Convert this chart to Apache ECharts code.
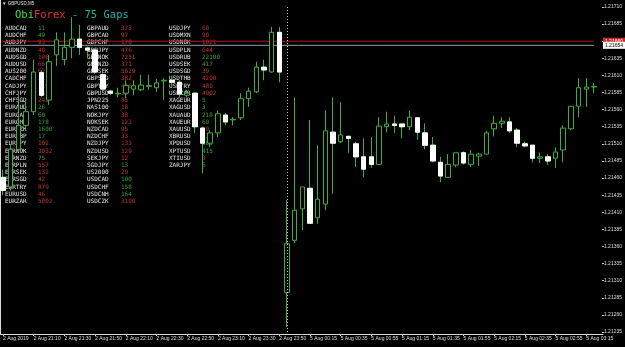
<!DOCTYPE html>
<html><head><meta charset="utf-8">
<script src="https://cdn.jsdelivr.net/npm/echarts@6/dist/echarts.min.js"></script>
<style>html,body{margin:0;padding:0;background:#000;}#c{width:625px;height:347px;}</style>
</head><body><div id="c"></div>
<script>
const categories = [
 '2 Aug 20:50','2 Aug 20:55','2 Aug 21:00','2 Aug 21:05','2 Aug 21:10','2 Aug 21:15','2 Aug 21:20','2 Aug 21:25',
 '2 Aug 21:30','2 Aug 21:35','2 Aug 21:40','2 Aug 21:45','2 Aug 21:50','2 Aug 21:55','2 Aug 22:00','2 Aug 22:05',
 '2 Aug 22:10','2 Aug 22:15','2 Aug 22:20','2 Aug 22:25','2 Aug 22:30','2 Aug 22:35','2 Aug 22:40','2 Aug 22:45',
 '2 Aug 22:50','2 Aug 22:55','2 Aug 23:00','2 Aug 23:05','2 Aug 23:10','2 Aug 23:15','2 Aug 23:20','2 Aug 23:25',
 '2 Aug 23:30','2 Aug 23:35','2 Aug 23:40','2 Aug 23:45','2 Aug 23:50',
 '5 Aug 00:00','5 Aug 00:05','5 Aug 00:10','5 Aug 00:15','5 Aug 00:20','5 Aug 00:25','5 Aug 00:30','5 Aug 00:35',
 '5 Aug 00:40','5 Aug 00:45','5 Aug 00:50','5 Aug 00:55','5 Aug 01:00','5 Aug 01:05','5 Aug 01:10','5 Aug 01:15',
 '5 Aug 01:20','5 Aug 01:25','5 Aug 01:30','5 Aug 01:35','5 Aug 01:40','5 Aug 01:45','5 Aug 01:50','5 Aug 01:55',
 '5 Aug 02:00','5 Aug 02:05','5 Aug 02:10','5 Aug 02:15','5 Aug 02:20','5 Aug 02:25','5 Aug 02:30','5 Aug 02:35',
 '5 Aug 02:40','5 Aug 02:45','5 Aug 02:50','5 Aug 02:55','5 Aug 03:00','5 Aug 03:05','5 Aug 03:10','5 Aug 03:15',
 '5 Aug 03:20'
];
const xTickLabels = ['2 Aug 2019','2 Aug 21:10','2 Aug 21:30','2 Aug 21:50','2 Aug 22:10','2 Aug 22:30','2 Aug 22:50',
 '2 Aug 23:10','2 Aug 23:30','2 Aug 23:50','5 Aug 00:15','5 Aug 00:35','5 Aug 00:55','5 Aug 01:15','5 Aug 01:35',
 '5 Aug 01:55','5 Aug 02:15','5 Aug 02:35','5 Aug 02:55','5 Aug 03:15'];

const opens = [1.21461,1.21447,1.21502,1.21537,1.21557,1.21614,1.21574,1.21640,1.21633,1.21651,1.21663,1.21650,1.21647,1.21611,1.21587,1.21583,
 1.21584,1.21590,1.21589,1.21594,1.21592,1.21602,1.21603,1.21600,1.21581,1.21584,1.21533,1.21511,1.21526,1.21552,1.21545,1.21548,
 1.21576,1.21586,1.21622,1.21615,1.21673,1.21293,1.21369,1.21415,1.21445,1.21402,1.21422,1.21527,1.21513,1.21521,1.21510,1.21491,
 1.21491,1.21480,1.21535,1.21539,1.21539,1.21535,1.21548,1.21526,1.21508,1.21483,1.21461,1.21479,1.21497,1.21480,1.21492,1.21495,
 1.21532,1.21540,1.21542,1.21530,1.21510,1.21508,1.21489,1.21491,1.21489,1.21501,1.21532,1.21565,1.21590,1.21593];
const closes = [1.21442,1.21502,1.21537,1.21557,1.21615,1.21581,1.21630,1.21662,1.21651,1.21663,1.21651,1.21647,1.21615,1.21590,1.21584,1.21584,
 1.21595,1.21595,1.21596,1.21595,1.21599,1.21603,1.21600,1.21583,1.21584,1.21535,1.21511,1.21526,1.21554,1.21542,1.21546,1.21576,
 1.21587,1.21622,1.21618,1.21673,1.21615,1.21364,1.21413,1.21447,1.21394,1.21429,1.21529,1.21511,1.21523,1.21518,1.21491,1.21473,
 1.21480,1.21536,1.21539,1.21537,1.21535,1.21549,1.21527,1.21508,1.21485,1.21463,1.21480,1.21497,1.21482,1.21495,1.21495,1.21526,
 1.21540,1.21543,1.21529,1.21511,1.21507,1.21489,1.21491,1.21485,1.21498,1.21533,1.21565,1.21592,1.21593,1.21594];
const lows = [1.21435,1.21442,1.21498,1.21530,1.21552,1.21578,1.21567,1.21624,1.21625,1.21635,1.21640,1.21635,1.21612,1.21586,1.21581,1.21578,
 1.21577,1.21581,1.21587,1.21589,1.21586,1.21574,1.21593,1.21578,1.21578,1.21526,1.21467,1.21505,1.21520,1.21537,1.21537,1.21545,
 1.21564,1.21584,1.21603,1.21614,1.21600,1.21242,1.21365,1.21384,1.21394,1.21393,1.21413,1.21437,1.21511,1.21497,1.21476,1.21461,
 1.21475,1.21479,1.21527,1.21526,1.21518,1.21530,1.21516,1.21502,1.21483,1.21454,1.21461,1.21476,1.21480,1.21476,1.21478,1.21495,
 1.21521,1.21533,1.21526,1.21505,1.21505,1.21483,1.21482,1.21479,1.21475,1.21483,1.21530,1.21549,1.21564,1.21584];
const highs = [1.21472,1.21508,1.21581,1.21574,1.21633,1.21618,1.21640,1.21673,1.21673,1.21695,1.21684,1.21652,1.21650,1.21615,1.21589,1.21592,
 1.21603,1.21603,1.21611,1.21611,1.21605,1.21606,1.21608,1.21603,1.21589,1.21584,1.21535,1.21530,1.21559,1.21555,1.21549,1.21584,
 1.21592,1.21630,1.21633,1.21681,1.21681,1.21428,1.21578,1.21447,1.21545,1.21508,1.21559,1.21578,1.21571,1.21521,1.21513,1.21518,
 1.21520,1.21549,1.21557,1.21551,1.21539,1.21559,1.21549,1.21540,1.21520,1.21491,1.21495,1.21497,1.21499,1.21501,1.21497,1.21529,
 1.21551,1.21549,1.21549,1.21533,1.21513,1.21508,1.21497,1.21495,1.21505,1.21537,1.21565,1.21606,1.21606,1.21599];

const askLevel = 1.21660;
const bidLevel = 1.21654;
const separatorAt = '5 Aug 00:00';

const col1Symbols = ['AUDCAD','AUDCHF','AUDJPY','AUDNZD','AUDSGD','AUDUSD','AUS200','CADCHF','CADJPY','CHFJPY','CHFSGD','EURAUD','EURCAD',
 'EURCHF','EURCZK','EURGBP','EURJPY','EURNOK','EURNZD','EURPLN','EURSEK','EURSGD','EURTRY','EURUSD','EURZAR'];
const col1Values = ['11','49','93','40','106','66','62','31','119','142','243','26','60','178','1600','17','102','3032','75','557','132','42','879','46','5002'];
const col1Up = [1,1,0,0,0,0,0,1,0,0,0,1,1,1,1,1,0,0,1,0,0,0,0,0,0];
const col2Symbols = ['GBPAUD','GBPCAD','GBPCHF','GBPJPY','GBPNOK','GBPNZD','GBPSEK','GBPSGD','GBPTRY','GBPUSD','JPN225','NAS100','NOKJPY',
 'NOKSEK','NZDCAD','NZDCHF','NZDJPY','NZDUSD','SEKJPY','SGDJPY','US2000','USDCAD','USDCHF','USDCNH','USDCZK'];
const col2Values = ['373','97','170','476','7251','371','5629','382','446','33','85','18','38','123','95','33','133','129','12','13','29','100','158','164','3190'];
const col2Up = [0,0,0,0,0,0,0,0,0,0,0,0,0,0,0,0,0,0,0,1,0,1,1,1,0];
const col3Symbols = ['USDJPY','USDMXN','USDNOK','USDPLN','USDRUB','USDSEK','USDSGD','USDTHB','USDTRY','USDZAR','XAGEUR','XAGUSD','XAUAUD',
 'XAUEUR','XAUUSD','XBRUSD','XPDUSD','XPTUSD','XTIUSD','ZARJPY'];
const col3Values = ['60','90','1021','644','22100','417','39','4200','480','4902','5','3','218','60','19','12','200','415','3','6'];
const col3Up = [0,0,0,0,1,1,0,0,0,0,1,1,1,1,0,0,1,1,0,1];

const GREEN = '#3dae3d';
const candleData = opens.map((o,i)=>[o, closes[i], lows[i], highs[i]]);
const bearBodies = opens.map((o,i)=> closes[i] < o ? [o, closes[i], closes[i], o] : '-');

const mono = '"DejaVu Sans Mono", "Liberation Mono", monospace';
const graphics = [];
graphics.push({type:'text', left:2, top:1, z:0, style:{text:'\u25BC GBPUSD,M5', fill:'#e0e0e0', font:'4.5px "Liberation Sans", sans-serif'}});
graphics.push({type:'text', left:15, top:10, z:0, style:{text:'{a|Obi}{b|Forex}{c| - 75 Gaps}', font:'10.5px '+mono,
  rich:{a:{fill:'#3ee03e', font:'10.5px '+mono}, b:{fill:'#e83030', font:'10.5px '+mono}, c:{fill:'#22b0aa', font:'10.5px '+mono}}}});
const cols = [[col1Symbols,col1Values,col1Up,5,38],[col2Symbols,col2Values,col2Up,87,121],[col3Symbols,col3Values,col3Up,169,202]];
cols.forEach(([syms,vals,ups,sx,vx])=>{
  syms.forEach((s,r)=>{
    const y = 28.3 + r*7.22;
    graphics.push({type:'text', x:sx, y:y, z:0, style:{text:s, fill:'#e6e6e6', font:'6px '+mono, verticalAlign:'middle'}});
    graphics.push({type:'text', x:vx, y:y, z:0, style:{text:vals[r], fill: ups[r] ? '#3f9f3f' : '#c43434', font:'6px '+mono, verticalAlign:'middle'}});
  });
});

function levelSeries(level, lineColor, labelBg, labelColor) {
  return {type:'line', xAxisIndex:0, yAxisIndex:0, z:1, silent:true, symbol:'none', clip:false,
    data:[[categories[0], level],[categories[categories.length-1], level]],
    lineStyle:{color:lineColor, width:1, opacity:1},
    itemStyle:{color:lineColor},
    endLabel:{show:true, distance:9, formatter:level.toFixed(5), color:labelColor, backgroundColor:labelBg, fontSize:5, padding:[1,2]}};
}

const chart = echarts.init(document.getElementById('c'), null, {renderer:'canvas'});
chart.setOption({
  backgroundColor:'#000',
  animation:false,
  graphic: graphics,
  grid:[
    {left:0, right:30, top:7, bottom:15},
    {left:0, right:22, top:0, bottom:13}
  ],
  xAxis:[
    {type:'category', gridIndex:0, data:categories, boundaryGap:false, offset:2,
     axisLine:{show:false},
     axisTick:{show:true, interval:3, length:2, lineStyle:{color:'#cfcfcf'}},
     axisLabel:{interval:3, color:'#dcdcdc', fontSize:5, fontFamily:'"Liberation Sans", sans-serif', align:'left', margin:2,
       formatter:(v,i)=> xTickLabels[Math.round(i/4)] || ''},
     splitLine:{show:false}},
    {type:'value', gridIndex:1, min:0, max:1, axisLine:{show:true, lineStyle:{color:'#d8d8d8', width:1}},
     axisTick:{show:false}, axisLabel:{show:false}, splitLine:{show:false}}
  ],
  yAxis:[
    {type:'value', gridIndex:0, position:'right', offset:8, min:1.21235, max:1.21710, interval:0.00025,
     axisLine:{show:false},
     axisTick:{show:true, length:2, lineStyle:{color:'#cfcfcf'}},
     axisLabel:{color:'#dcdcdc', fontSize:5, fontFamily:'"Liberation Sans", sans-serif', margin:2, formatter:v=>v.toFixed(5)},
     splitLine:{show:false}},
    {type:'value', gridIndex:1, position:'right', min:0, max:1, axisLine:{show:true, lineStyle:{color:'#d8d8d8', width:1}},
     axisTick:{show:false}, axisLabel:{show:false}, splitLine:{show:false}}
  ],
  series:[
    levelSeries(askLevel, '#b01818', '#c82828', '#ffffff'),
    levelSeries(bidLevel, '#9a9aa8', '#ffffff', '#000000'),
    {type:'line', xAxisIndex:0, yAxisIndex:0, data:[], z:1, silent:true, color:'#c8c8c8',
     markLine:{silent:true, symbol:['none','none'], animation:false,
       lineStyle:{color:'#c8c8c8', type:[1,2], width:1, opacity:1}, label:{show:false},
       data:[{xAxis:separatorAt}]}},
    {type:'candlestick', xAxisIndex:0, yAxisIndex:0, data:candleData, barWidth:5, clip:false, z:2,
     itemStyle:{color:'#000', color0:'#ffffff', borderColor:GREEN, borderColor0:GREEN, borderWidth:1}},
    {type:'candlestick', xAxisIndex:0, yAxisIndex:0, data:bearBodies, barWidth:5, clip:false, z:3,
     itemStyle:{color:'#000', color0:'#ffffff', borderColor:'#ffffff', borderColor0:'#ffffff', borderWidth:1}}
  ]
});
</script>
</body></html>
